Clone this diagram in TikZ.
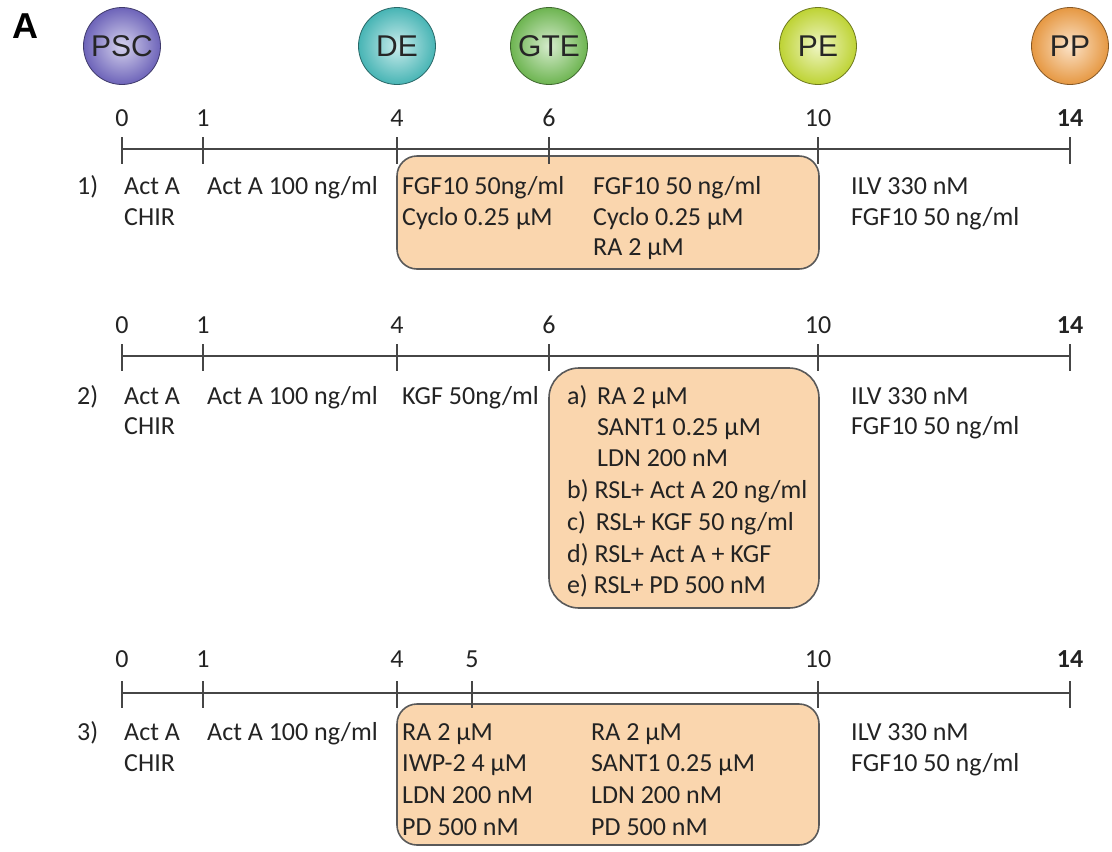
\documentclass[tikz,border=0pt]{standalone}
\usepackage{fontspec}
\setmainfont{Carlito}
\newfontfamily\circfont{Liberation Sans}
\definecolor{peach}{RGB}{250,214,174}
\definecolor{inkc}{RGB}{35,35,35}
\definecolor{linec}{RGB}{70,70,70}
\tikzset{
  txt/.style={anchor=base west, inner sep=0pt, text=inkc, font=\fontsize{26}{28}\selectfont},
  numlab/.style={anchor=base, inner sep=0pt, text=inkc, font=\fontsize{26}{28}\selectfont},
  axis/.style={draw=linec, line width=2pt},
  tickmark/.style={draw=linec, line width=2pt},
  condbox/.style={draw=linec!90, line width=1.6pt, fill=peach},
  stage/.style={circle, minimum size=77pt, inner sep=0pt, draw=#1!55!black, line width=0.8pt,
     inner color=#1!30!white, outer color=#1!95!black, text=black!85,
     font=\circfont\fontsize{30}{30}\selectfont},
}
\definecolor{cpsc}{RGB}{115,105,195}
\definecolor{cde}{RGB}{75,190,190}
\definecolor{cgte}{RGB}{115,190,85}
\definecolor{cpe}{RGB}{200,222,55}
\definecolor{cpp}{RGB}{242,160,70}
\begin{document}
\begin{tikzpicture}[x=1pt,y=-1pt]
\useasboundingbox (0,0) rectangle (1112,852);
% panel letter
\node[anchor=base west, inner sep=0pt, font=\circfont\bfseries\fontsize{36}{36}\selectfont] (panel) at (12,38) {A};
% stage circles
\node[stage=cpsc] (psc) at (122,46) {PSC};
\node[stage=cde]  (de)  at (397,46) {DE};
\node[stage=cgte] (gte) at (549,46) {GTE};
\node[stage=cpe]  (pe)  at (818,46) {PE};
\node[stage=cpp]  (pp)  at (1070,46) {PP};

% ---------------- row 1 ----------------
\draw[condbox, rounded corners=20pt] (397,156) rectangle (819,269);
\coordinate (a1s) at (122,149);
\coordinate (a1e) at (1070,149);
\draw[axis] (a1s) -- (a1e);
\foreach \x/\l in {122/0,203/1,397/4,549/6,818/10}{
  \draw[tickmark] (\x,137) -- (\x,164);
  \node[numlab] at (\x,126) {\l};
}
\draw[tickmark] (1070,137) -- (1070,164);
\node[numlab, font=\bfseries\fontsize{26}{28}\selectfont] (n14a) at (1070,126) {14};
\node[txt] (r1) at (77,194) {1)};
\node[txt] (r1a) at (124,194) {Act A};
\node[txt] (r1b) at (124,225) {CHIR};
\node[txt] (r1c) at (207,194) {Act A 100 ng/ml};
\node[txt] (r1d) at (402,194) {FGF10 50ng/ml};
\node[txt] (r1e) at (402,225) {Cyclo 0.25 µM};
\node[txt] (r1f) at (593,194) {FGF10 50 ng/ml};
\node[txt] (r1g) at (593,225) {Cyclo 0.25 µM};
\node[txt] (r1h) at (593,255) {RA 2 µM};
\node[txt] (r1i) at (851,194) {ILV 330 nM};
\node[txt] (r1j) at (851,225) {FGF10 50 ng/ml};

% ---------------- row 2 ----------------
\draw[condbox, rounded corners=30pt] (549,368) rectangle (819,608);
\coordinate (a2s) at (122,356);
\coordinate (a2e) at (1070,356);
\draw[axis] (a2s) -- (a2e);
\foreach \x/\l in {122/0,203/1,397/4,549/6,818/10}{
  \draw[tickmark] (\x,344) -- (\x,371);
  \node[numlab] at (\x,333) {\l};
}
\draw[tickmark] (1070,344) -- (1070,371);
\node[numlab, font=\bfseries\fontsize{26}{28}\selectfont] (n14b) at (1070,333) {14};
\node[txt] (r2) at (77,404) {2)};
\node[txt] (r2a) at (124,404) {Act A};
\node[txt] (r2b) at (124,434) {CHIR};
\node[txt] (r2c) at (207,404) {Act A 100 ng/ml};
\node[txt] (r2d) at (402,404) {KGF 50ng/ml};
\node[txt] (r2e) at (567,404) {a)};
\node[txt] (r2f) at (597,404) {RA 2 µM};
\node[txt] (r2g) at (597,435) {SANT1 0.25 µM};
\node[txt] (r2h) at (597,466) {LDN 200 nM};
\node[txt] (r2i) at (567,498) {b) RSL+ Act A 20 ng/ml};
\node[txt] (r2j) at (567,530) {c)\hspace{4pt} RSL+ KGF 50 ng/ml};
\node[txt] (r2k) at (567,562) {d) RSL+ Act A + KGF};
\node[txt] (r2l) at (567,593) {e) RSL+ PD 500 nM};
\node[txt] (r2m) at (851,404) {ILV 330 nM};
\node[txt] (r2n) at (851,434) {FGF10 50 ng/ml};

% ---------------- row 3 ----------------
\draw[condbox, rounded corners=20pt] (397,704) rectangle (819,845);
\coordinate (a3s) at (122,693);
\coordinate (a3e) at (1070,693);
\draw[axis] (a3s) -- (a3e);
\foreach \x/\l in {122/0,203/1,397/4,472/5,818/10}{
  \draw[tickmark] (\x,681) -- (\x,708);
  \node[numlab] at (\x,667) {\l};
}
\draw[tickmark] (1070,681) -- (1070,708);
\node[numlab, font=\bfseries\fontsize{26}{28}\selectfont] (n14c) at (1070,667) {14};
\node[txt] (r3) at (77,740) {3)};
\node[txt] (r3a) at (124,740) {Act A};
\node[txt] (r3b) at (124,771) {CHIR};
\node[txt] (r3c) at (207,740) {Act A 100 ng/ml};
\node[txt] (r3d) at (402,740) {RA 2 µM};
\node[txt] (r3e) at (402,771) {IWP-2 4 µM};
\node[txt] (r3f) at (402,803) {LDN 200 nM};
\node[txt] (r3g) at (402,835) {PD 500 nM};
\node[txt] (r3h) at (591,740) {RA 2 µM};
\node[txt] (r3i) at (591,771) {SANT1 0.25 µM};
\node[txt] (r3j) at (591,803) {LDN 200 nM};
\node[txt] (r3k) at (591,835) {PD 500 nM};
\node[txt] (r3l) at (851,740) {ILV 330 nM};
\node[txt] (r3m) at (851,771) {FGF10 50 ng/ml};
\end{tikzpicture}
\end{document}
